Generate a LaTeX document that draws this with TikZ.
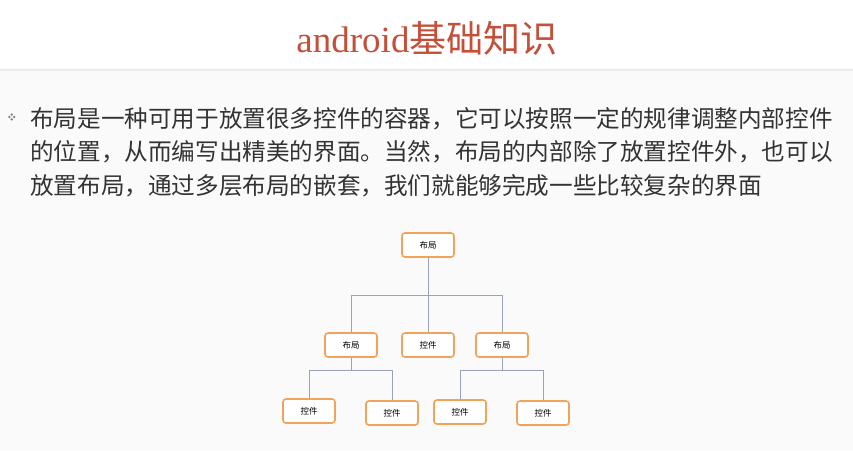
\documentclass[tikz,border=0pt]{standalone}
\usepackage{fontspec}
\setmainfont{Liberation Serif}
\newfontfamily\cjk{Noto Sans CJK SC}
\definecolor{boxc}{HTML}{F0A35A}
\definecolor{wirec}{HTML}{97A3BA}
\definecolor{titc}{HTML}{C4503A}
\begin{document}
\begin{tikzpicture}[x=1pt,y=-1pt,
  box/.style={draw=boxc,line width=1.6pt,rounded corners=3pt,minimum width=52pt,minimum height=24pt,fill=white,font=\cjk\fontsize{8.5}{9}\selectfont,inner sep=0pt},
  wire/.style={draw=wirec,line width=0.9pt}]
\useasboundingbox (0,0) rectangle (853,451);
\fill[gray!4] (0,0) rectangle (853,451);
\fill[white] (0,0) rectangle (853,68);
\draw[gray!15,line width=1.5pt] (0,70) -- (853,70);
\node[text=titc,font=\fontsize{37}{38}\selectfont] (title) at (427,38) {android{\cjk 基础知识}};
\node[text=gray,font=\fontsize{8}{8}\selectfont] (bul) at (12,117) {\cjk ❖};
\node[anchor=west,text=black!80,font=\cjk\fontsize{23.6}{33.5}\selectfont,align=left,inner sep=0pt] (txt) at (30,152) {布局是一种可用于放置很多控件的容器，它可以按照一定的规律调整内部控件\\的位置，从而编写出精美的界面。当然，布局的内部除了放置控件外，也可以\\放置布局，通过多层布局的嵌套，我们就能够完成一些比较复杂的界面};
\node[box] (r) at (428,245) {布局};
\node[box] (a) at (351,345) {布局};
\node[box] (b) at (428,345) {控件};
\node[box] (c) at (502,345) {布局};
\node[box] (a1) at (309,411) {控件};
\node[box] (a2) at (392,413) {控件};
\node[box] (c1) at (460,412) {控件};
\node[box] (c2) at (543,413) {控件};
\coordinate (h) at (428,295);
\draw[wire] (r.south) -- (h);
\draw[wire] (h) -| (a.north);
\draw[wire] (h) -- (b.north);
\draw[wire] (h) -| (c.north);
\draw[wire] (a.south) -- ++(0,13) coordinate (ha);
\draw[wire] (ha) -| (a1.north);
\draw[wire] (ha) -| (a2.north);
\draw[wire] (c.south) -- ++(0,13) coordinate (hc);
\draw[wire] (hc) -| (c1.north);
\draw[wire] (hc) -| (c2.north);
\end{tikzpicture}
\end{document}
